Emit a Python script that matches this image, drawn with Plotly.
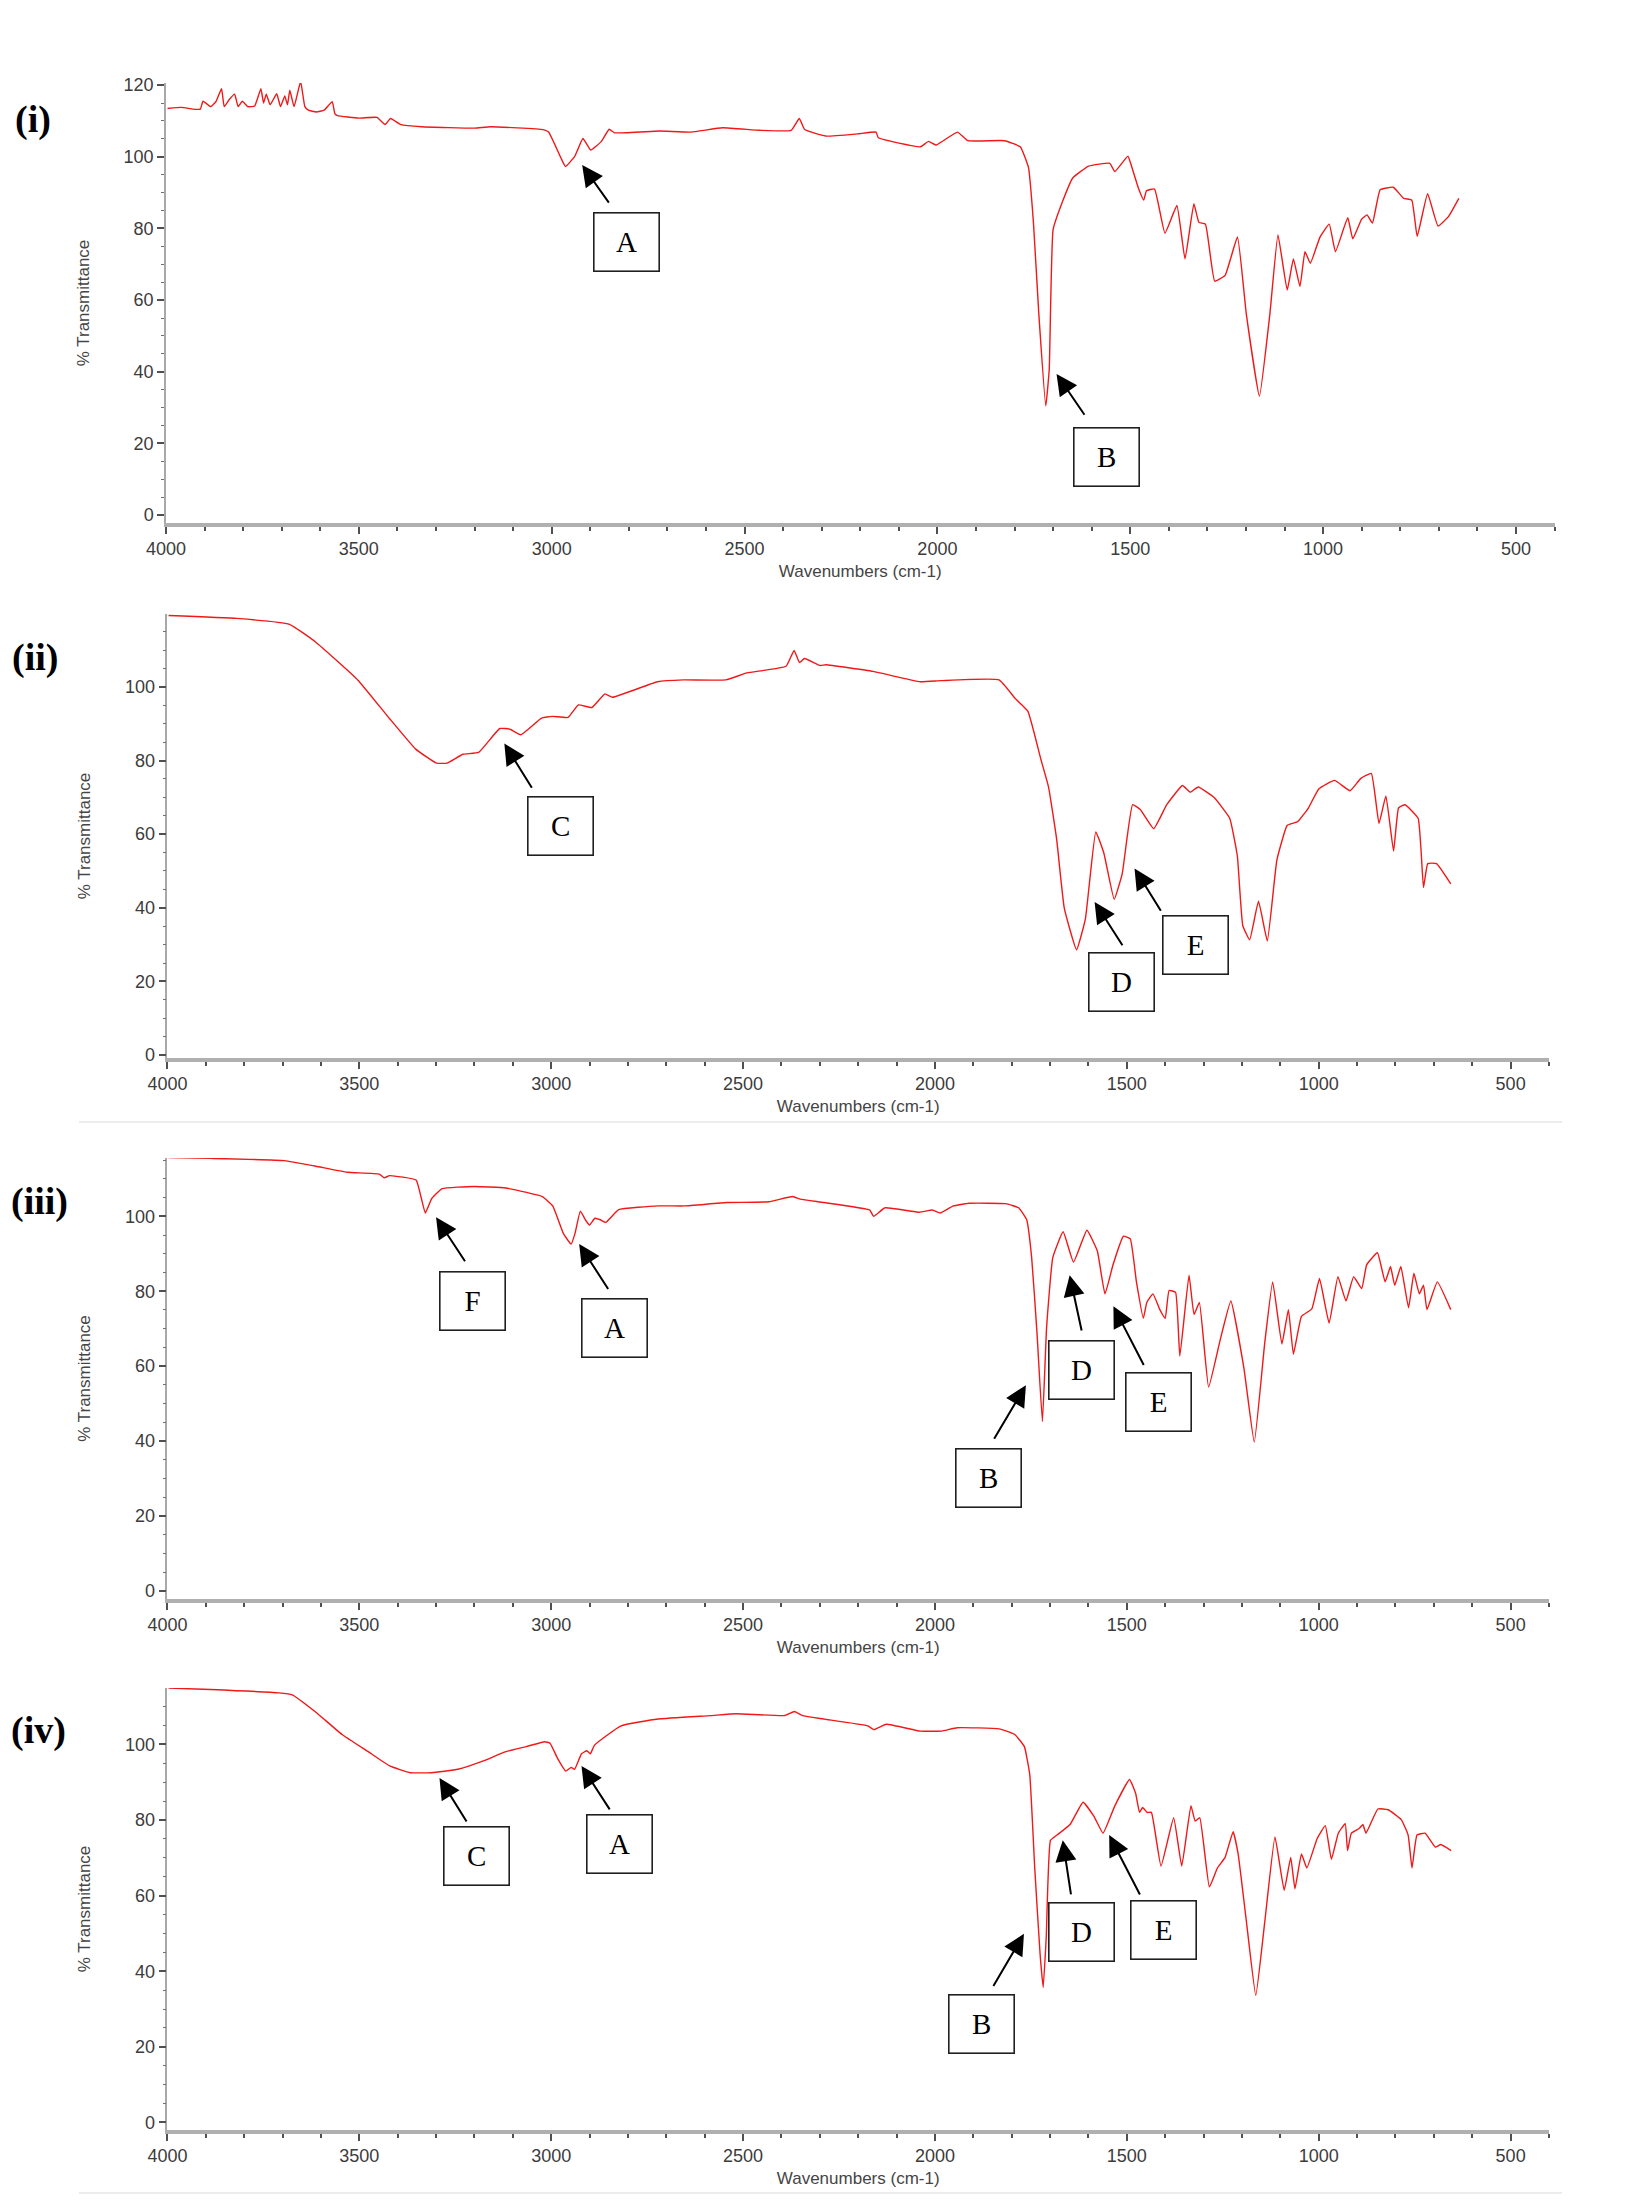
import plotly.graph_objects as go

# ---------------- data ----------------
wn_i = [3996, 3960, 3930, 3911, 3904, 3884, 3870, 3856, 3849, 3836, 3822, 3813, 3802, 3788,
        3770, 3754, 3747, 3740, 3730, 3713, 3703, 3692, 3685, 3679, 3668, 3651, 3640, 3631,
        3610, 3590, 3569, 3562, 3555, 3500, 3453, 3432, 3418, 3391, 3337, 3200, 3159, 3022,
        3008, 2974, 2964, 2940, 2919, 2899, 2871, 2851, 2837, 2721, 2639, 2557, 2461, 2379,
        2358, 2344, 2290, 2207, 2159, 2153, 2044, 2023, 2003, 1948, 1921, 1826, 1785, 1764,
        1751, 1737, 1719, 1710, 1700, 1676, 1649, 1608, 1553, 1540, 1506, 1499, 1478, 1465,
        1458, 1437, 1410, 1379, 1358, 1335, 1322, 1305, 1281, 1254, 1222, 1199, 1165, 1138,
        1117, 1093, 1077, 1060, 1047, 1033, 1008, 984, 968, 936, 923, 900, 886, 872, 852,
        818, 791, 770, 756, 729, 702, 675, 648]
t_i = [113.5, 113.8, 113.3, 113.3, 115.5, 114.0, 115.5, 119.0, 114.0, 116.0, 117.5, 114.0, 115.5, 114.0,
       114.2, 119.0, 115.0, 117.5, 114.5, 117.6, 114.0, 117.0, 114.5, 118.6, 114.0, 121.0, 114.0, 113.0,
       112.5, 113.0, 115.4, 112.0, 111.5, 110.8, 111.0, 109.0, 110.7, 109.0, 108.4, 108.0, 108.4, 107.6,
       106.9, 99.2, 97.3, 100.2, 105.1, 101.9, 104.3, 107.7, 106.7, 107.2, 106.9, 108.1, 107.4, 107.4,
       110.7, 107.6, 105.8, 106.4, 106.9, 105.3, 102.8, 104.3, 103.3, 106.9, 104.5, 104.5, 102.8, 97.1,
       81.7, 56.1, 30.5, 40.7, 79.7, 87.4, 94.1, 97.4, 98.2, 95.9, 100.2, 98.2, 91.0, 87.9,
       90.5, 91.0, 78.7, 86.4, 71.5, 86.9, 81.7, 81.2, 65.3, 66.9, 77.6, 56.1, 33.2, 56.1,
       78.2, 62.8, 71.5, 63.8, 73.5, 70.3, 77.6, 81.2, 73.5, 83.0, 77.1, 82.6, 83.8, 81.5, 90.8,
       91.5, 88.4, 87.9, 77.8, 89.7, 80.7, 83.3, 88.4]

wn_ii = [3997, 3819, 3682, 3614, 3504, 3422, 3353, 3299, 3271, 3230, 3189, 3134, 3107, 3079,
         3025, 2997, 2956, 2929, 2894, 2860, 2840, 2723, 2655, 2545, 2490, 2388, 2367, 2353,
         2340, 2299, 2284, 2161, 2038, 1984, 1833, 1792, 1758, 1724, 1704, 1683, 1663, 1631,
         1608, 1581, 1560, 1533, 1512, 1485, 1465, 1430, 1396, 1355, 1335, 1314, 1273, 1232,
         1212, 1198, 1180, 1157, 1134, 1109, 1082, 1055, 1027, 1000, 959, 918, 891, 863,
         843, 825, 805, 792, 775, 741, 727, 716, 693, 656]
t_ii = [119.4, 118.6, 117.0, 112.2, 101.9, 91.5, 83.1, 79.3, 79.3, 81.7, 82.2, 88.7, 88.5, 87.0,
        91.5, 92.0, 91.7, 95.1, 94.4, 98.1, 97.2, 101.4, 101.9, 101.9, 103.8, 105.6, 109.9, 106.6,
        107.7, 105.8, 106.0, 104.2, 101.4, 101.7, 101.9, 97.0, 93.4, 80.3, 72.8, 58.7, 39.9, 28.6,
        37.0, 60.6, 54.9, 42.3, 49.3, 68.0, 66.7, 61.5, 68.0, 73.2, 71.4, 72.8, 70.0, 64.3,
        54.0, 35.2, 31.3, 41.8, 31.0, 53.0, 62.4, 63.4, 67.1, 72.3, 74.6, 71.8, 75.1, 76.5,
        62.9, 70.4, 55.4, 67.1, 68.0, 64.3, 45.5, 52.0, 52.0, 46.5]

wn_iii = [3997, 3887, 3695, 3613, 3531, 3448, 3435, 3421, 3352, 3339, 3328, 3311, 3284, 3201,
          3119, 3064, 3023, 2996, 2968, 2948, 2938, 2924, 2911, 2900, 2886, 2872, 2858, 2824,
          2721, 2653, 2543, 2433, 2371, 2351, 2289, 2170, 2160, 2130, 2041, 2007, 1986, 1952,
          1911, 1816, 1782, 1761, 1748, 1734, 1720, 1709, 1693, 1666, 1639, 1604, 1577, 1557,
          1536, 1509, 1491, 1475, 1457, 1448, 1432, 1414, 1400, 1390, 1373, 1362, 1338, 1325,
          1311, 1287, 1257, 1229, 1195, 1168, 1141, 1120, 1096, 1079, 1066, 1045, 1018, 998,
          973, 950, 929, 909, 888, 875, 847, 827, 813, 802, 786, 766, 752, 738, 727, 718,
          691, 656]
t_iii = [115.7, 115.5, 114.9, 113.4, 111.8, 111.3, 110.3, 110.9, 109.7, 105.1, 100.9, 104.8, 107.4, 108.0,
         107.6, 106.4, 105.3, 102.8, 95.4, 92.6, 95.4, 101.4, 99.1, 97.7, 99.5, 99.1, 98.4, 101.8,
         102.8, 102.8, 103.7, 103.9, 105.3, 104.6, 103.7, 101.7, 100.0, 102.3, 101.1, 101.7, 100.9, 102.8,
         103.5, 103.4, 102.3, 99.1, 89.0, 68.7, 45.2, 70.5, 89.0, 95.9, 87.8, 96.3, 90.8, 79.3,
         87.1, 94.7, 94.0, 82.5, 72.8, 77.0, 79.3, 75.1, 72.8, 80.2, 79.7, 62.7, 84.3, 73.8,
         77.0, 54.4, 66.9, 77.4, 59.5, 39.7, 65.9, 82.5, 65.9, 75.1, 63.2, 73.3, 75.3, 83.4,
         71.5, 83.9, 77.4, 83.9, 80.7, 87.1, 90.3, 82.5, 86.6, 81.6, 86.6, 75.6, 84.8, 79.3, 81.6, 75.1,
         82.5, 75.1]

wn_iv = [3997, 3888, 3709, 3675, 3613, 3545, 3476, 3421, 3367, 3312, 3243, 3175, 3120, 3065,
         3017, 3003, 2983, 2962, 2948, 2939, 2921, 2907, 2898, 2887, 2818, 2722, 2585, 2517,
         2393, 2366, 2345, 2290, 2175, 2159, 2127, 2038, 1984, 1942, 1833, 1792, 1767, 1753,
         1740, 1726, 1718, 1710, 1699, 1682, 1648, 1614, 1586, 1562, 1531, 1493, 1477, 1467,
         1459, 1447, 1436, 1411, 1378, 1357, 1333, 1322, 1310, 1285, 1264, 1244, 1223, 1210,
         1189, 1164, 1141, 1114, 1090, 1073, 1062, 1045, 1031, 1004, 983, 967, 949, 931,
         925, 915, 894, 885, 877, 846, 819, 785, 767, 757, 744, 723, 696, 682, 655]
t_iv = [114.9, 114.5, 113.6, 113.1, 108.5, 102.6, 98.0, 94.3, 92.5, 92.5, 93.4, 95.7, 98.0, 99.4,
        100.7, 100.3, 96.2, 92.9, 93.9, 93.4, 97.5, 98.3, 97.5, 99.8, 104.9, 106.7, 107.6, 108.1,
        107.6, 108.7, 107.6, 106.7, 104.9, 103.9, 105.3, 103.5, 103.5, 104.4, 104.1, 102.6, 99.4, 92.0,
        67.3, 44.4, 35.7, 49.0, 74.6, 76.0, 78.8, 84.7, 81.0, 76.5, 83.8, 90.7, 87.0, 82.0,
        83.3, 82.0, 82.0, 67.8, 80.6, 67.8, 83.8, 79.7, 80.6, 62.3, 67.3, 70.1, 76.9, 71.0,
        53.6, 33.6, 52.7, 75.5, 61.4, 70.1, 61.8, 71.0, 67.3, 75.1, 78.5, 69.6, 76.5, 79.0,
        71.9, 76.5, 77.8, 78.8, 76.5, 82.9, 82.7, 80.1, 76.0, 67.3, 76.0, 76.5, 72.8, 73.5, 71.9]

panel_names = ["(i)", "(ii)", "(iii)", "(iv)"]
x_ticks = [4000, 3500, 3000, 2500, 2000, 1500, 1000, 500]
x_title = "Wavenumbers (cm-1)"
y_title = "% Transmittance"

# peak labels per panel: letter, box centre (wn, %T), arrow tail, arrow tip
labels_i = [("A", 2806, 76.2, 2849, 86.8, 2921, 97.7),
            ("B", 1562, 16.3, 1616, 27.6, 1691, 39.4)]
labels_ii = [("C", 2976, 62.1, 3048, 72.2, 3122, 84.6),
             ("D", 1513, 19.8, 1509, 29.4, 1584, 41.6),
             ("E", 1321, 29.9, 1409, 38.8, 1480, 50.7)]
labels_iii = [("F", 3206, 77.5, 3222, 87.6, 3300, 99.8),
              ("A", 2835, 70.3, 2849, 80.2, 2927, 92.6),
              ("B", 1861, 30.2, 1848, 40.2, 1763, 54.9),
              ("D", 1618, 59.1, 1617, 69.1, 1649, 84.3),
              ("E", 1418, 50.4, 1454, 59.9, 1535, 76.0)]
labels_iv = [("C", 3195, 70.5, 3218, 79.2, 3291, 91.1),
             ("A", 2822, 73.7, 2845, 82.4, 2921, 94.3),
             ("B", 1879, 26.1, 1850, 35.7, 1768, 49.9),
             ("D", 1618, 50.3, 1645, 59.9, 1667, 74.6),
             ("E", 1405, 51.0, 1464, 59.9, 1546, 76.0)]

# ---------------- layout geometry ----------------
# positions are page pixels of the 1650 x 2203 window; the html body has an 8px margin,
# so the figure is made 8px smaller and all page positions are shifted by that margin.
PAGE_W, PAGE_H, OFF = 1650, 2203, 8
W, H = PAGE_W - OFF, PAGE_H - OFF


def px(v):
    return (v - OFF) / W


def py(v):
    return 1 - (v - OFF) / H


panels = [
    dict(wn=wn_i, t=t_i, labels=labels_i, x0=166, x1=1554.5, top=83, bot=523,
         yr=[-2.2, 120.6], yt=[0, 20, 40, 60, 80, 100, 120], tag_xy=(13, 120)),
    dict(wn=wn_ii, t=t_ii, labels=labels_ii, x0=167.4, x1=1549, top=614, bot=1058,
         yr=[-0.8, 119.8], yt=[0, 20, 40, 60, 80, 100], tag_xy=(10, 658)),
    dict(wn=wn_iii, t=t_iii, labels=labels_iii, x0=167.4, x1=1549, top=1158, bot=1599,
         yr=[-2.2, 115.6], yt=[0, 20, 40, 60, 80, 100], tag_xy=(9, 1202)),
    dict(wn=wn_iv, t=t_iv, labels=labels_iv, x0=167.4, x1=1549, top=1688, bot=2130,
         yr=[-2.0, 114.9], yt=[0, 20, 40, 60, 80, 100], tag_xy=(9, 1730)),
]

sans = "Liberation Sans Narrow, Arial Narrow, Liberation Sans, Arial, sans-serif"
tick_font = dict(family=sans, size=18, color="#3c3c3c")
title_font = dict(family=sans, size=17, color="#454545")
serif = "Liberation Serif, Times New Roman, serif"

fig = go.Figure()
annotations = []
layout_axes = {}

for k, p in enumerate(panels):
    n = "" if k == 0 else str(k + 1)
    xa, ya = "x" + n, "y" + n
    fig.add_trace(go.Scatter(x=p["wn"], y=p["t"], mode="lines", xaxis=xa, yaxis=ya,
                             line=dict(color="#f01818", width=1.4, shape="spline", smoothing=0.35),
                             showlegend=False, hoverinfo="skip"))
    layout_axes["xaxis" + n] = dict(
        domain=[px(p["x0"]), px(p["x1"])], range=[4000, 400], anchor=ya, automargin=False,
        tickvals=x_ticks, ticks="outside", ticklen=7, tickwidth=1.5, tickcolor="#505050",
        minor=dict(dtick=100, tick0=0, ticks="outside", ticklen=4, tickwidth=1.5, tickcolor="#505050"),
        showline=True, linecolor="#b0b0b0", linewidth=3.5, showgrid=False, zeroline=False,
        tickfont=tick_font,
        title=dict(text=x_title, font=title_font, standoff=8),
    )
    layout_axes["yaxis" + n] = dict(
        domain=[py(p["bot"]), py(p["top"])], range=p["yr"], anchor=xa, automargin=False,
        tickvals=p["yt"], ticks="outside", ticklen=7, tickwidth=1.5, tickcolor="#505050",
        minor=dict(dtick=5, tick0=0, ticks="outside", ticklen=3, tickwidth=1.2, tickcolor="#707070"),
        showline=True, linecolor="#a8a8a8", linewidth=1.5, showgrid=False, zeroline=False,
        tickfont=tick_font,
        title=dict(text=y_title, font=title_font, standoff=30),
    )
    # panel tag (left-anchored so it stays inside the page)
    tx, ty = p["tag_xy"]
    annotations.append(dict(xref="paper", yref="paper", x=px(tx), y=py(ty),
                            text="<b>" + panel_names[k] + "</b>", showarrow=False,
                            font=dict(family=serif, size=38, color="black"),
                            xanchor="left", yanchor="middle"))
    for (letter, bx, by, ax_, ay_, tx_, ty_) in p["labels"]:
        annotations.append(dict(xref=xa, yref=ya, x=bx, y=by, text=letter, showarrow=False,
                                font=dict(family=serif, size=29, color="black"),
                                bordercolor="#202020", borderwidth=1.6, borderpad=0,
                                bgcolor="white", width=64, height=57,
                                xanchor="center", yanchor="middle"))
        annotations.append(dict(xref=xa, yref=ya, x=tx_, y=ty_, axref=xa, ayref=ya,
                                ax=ax_, ay=ay_, text="", showarrow=True,
                                arrowhead=2, arrowsize=2.1, arrowwidth=2.0,
                                arrowcolor="black", standoff=0, startstandoff=0))

# faint separator lines seen between panels
shapes = [
    dict(type="line", xref="paper", yref="paper", x0=px(79), x1=px(1562),
         y0=py(1122), y1=py(1122), line=dict(color="#ececec", width=2)),
    dict(type="line", xref="paper", yref="paper", x0=px(79), x1=px(1562),
         y0=py(2193), y1=py(2193), line=dict(color="#ececec", width=2)),
]

fig.update_layout(
    width=W, height=H, margin=dict(l=0, r=0, t=0, b=0, autoexpand=False),
    paper_bgcolor="white", plot_bgcolor="white",
    annotations=annotations, shapes=shapes, showlegend=False,
    **layout_axes,
)

fig.write_html("out.html")
